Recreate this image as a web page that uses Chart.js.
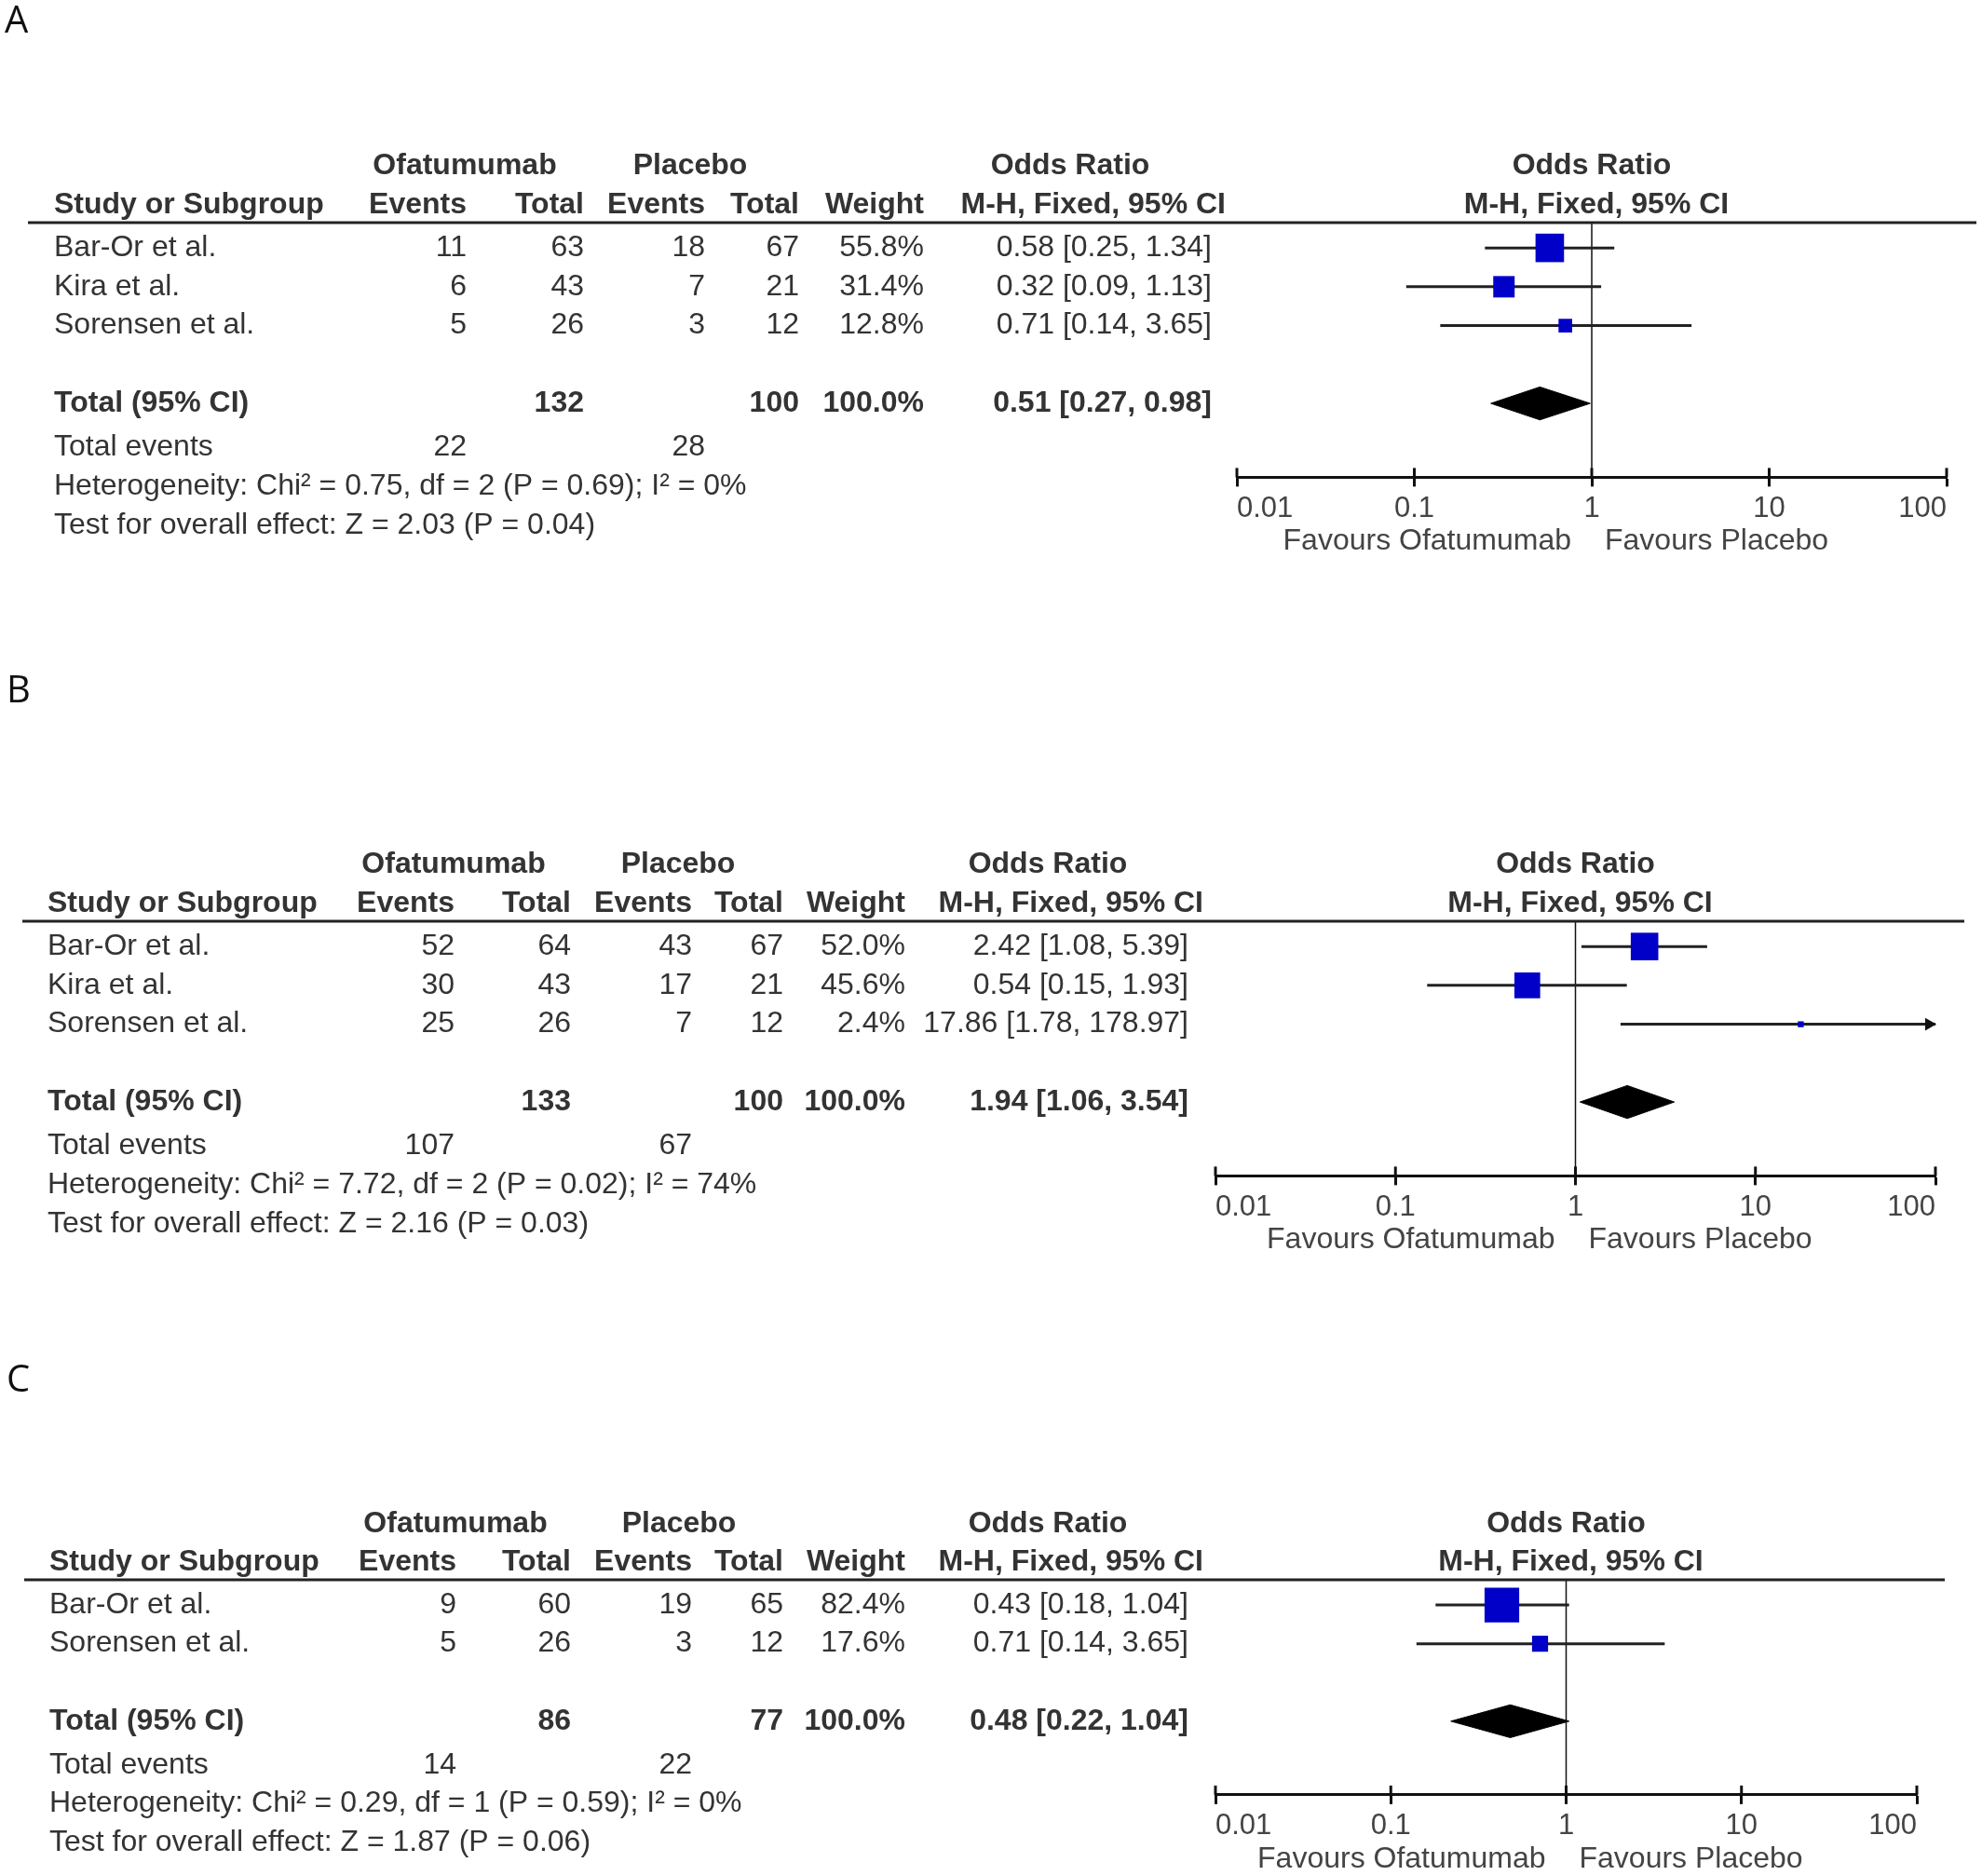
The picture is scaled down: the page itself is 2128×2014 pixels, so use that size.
<!DOCTYPE html>
<html>
<head>
<meta charset="utf-8">
<script src="https://cdn.jsdelivr.net/npm/chart.js@4.4.1/dist/chart.umd.min.js"></script>
<style>
  body { margin: 0; background: #fff; width: 2128px; height: 2014px; overflow: hidden; position: relative; }
  canvas { position: absolute; left: 0; }
</style>
</head>
<body>
<canvas id="chartA" width="2128" height="700" style="top:0px"></canvas>
<canvas id="chartB" width="2128" height="700" style="top:700px"></canvas>
<canvas id="chartC" width="2128" height="614" style="top:1400px"></canvas>
<script>
var tickValues = [0.01, 0.1, 1, 10, 100];
var tickLabels = ["0.01", "0.1", "1", "10", "100"];

// A
var studiesA = ["Bar-Or et al.", "Kira et al.", "Sorensen et al."];
var ofaEventsA = [11, 6, 5];
var ofaTotalA = [63, 43, 26];
var plaEventsA = [18, 7, 3];
var plaTotalA = [67, 21, 12];
var weightA = [55.8, 31.4, 12.8];
var orA = [0.58, 0.32, 0.71];
var loA = [0.25, 0.09, 0.14];
var hiA = [1.34, 1.13, 3.65];
var pooledA = [0.51, 0.27, 0.98];   // OR, low, high
var totalsA = [132, 100];
var eventsA = [22, 28];
var hetA = "Heterogeneity: Chi\u00b2 = 0.75, df = 2 (P = 0.69); I\u00b2 = 0%";
var testA = "Test for overall effect: Z = 2.03 (P = 0.04)";

// B
var studiesB = ["Bar-Or et al.", "Kira et al.", "Sorensen et al."];
var ofaEventsB = [52, 30, 25];
var ofaTotalB = [64, 43, 26];
var plaEventsB = [43, 17, 7];
var plaTotalB = [67, 21, 12];
var weightB = [52.0, 45.6, 2.4];
var orB = [2.42, 0.54, 17.86];
var loB = [1.08, 0.15, 1.78];
var hiB = [5.39, 1.93, 178.97];
var pooledB = [1.94, 1.06, 3.54];
var totalsB = [133, 100];
var eventsB = [107, 67];
var hetB = "Heterogeneity: Chi\u00b2 = 7.72, df = 2 (P = 0.02); I\u00b2 = 74%";
var testB = "Test for overall effect: Z = 2.16 (P = 0.03)";

// C
var studiesC = ["Bar-Or et al.", "Sorensen et al."];
var ofaEventsC = [9, 5];
var ofaTotalC = [60, 26];
var plaEventsC = [19, 3];
var plaTotalC = [65, 12];
var weightC = [82.4, 17.6];
var orC = [0.43, 0.71];
var loC = [0.18, 0.14];
var hiC = [1.04, 3.65];
var pooledC = [0.48, 0.22, 1.04];
var totalsC = [86, 77];
var eventsC = [14, 22];
var hetC = "Heterogeneity: Chi\u00b2 = 0.29, df = 1 (P = 0.59); I\u00b2 = 0%";
var testC = "Test for overall effect: Z = 1.87 (P = 0.06)";

var FONT = "'Liberation Sans', Arial, sans-serif";
var TXT = "#333";
var U = 42.5; // px per table row
var TICK_FONT = 31;

function ci(or, lo, hi) {
  return or.toFixed(2) + " [" + lo.toFixed(2) + ", " + hi.toFixed(2) + "]";
}

function buildPanel(canvasId, d, L) {
  var n = d.studies.length;
  var rowY = d.studies.map(function (s, i) { return 0.65 + i; });
  var totalRow = rowY[n - 1] + 2.0;
  var evRow = totalRow + 1.13;
  var hetRow = evRow + 1;
  var testRow = hetRow + 1;
  var axisRow = totalRow + 1.9;
  var axisH = 10 + TICK_FONT * 1.2 + 5;
  var canvas = document.getElementById(canvasId);
  var W = canvas.width, H = canvas.height;
  var padBottom = H - L.top - axisRow * U - axisH;
  var decade = (L.x1 - L.x0) / 4;

  var datasets = [];
  // study squares
  datasets.push({
    data: d.or.map(function (v, i) { return { x: v, y: rowY[i] }; }),
    pointStyle: "rect",
    pointRadius: d.weight.map(function (w) { return 4.1 * Math.sqrt(w) / Math.SQRT2; }),
    backgroundColor: "#0000c8",
    borderWidth: 0,
    order: 0,
    clip: false
  });
  // confidence intervals
  d.lo.forEach(function (lo, i) {
    datasets.push({
      data: [{ x: lo, y: rowY[i] }, { x: Math.min(d.hi[i], 100), y: rowY[i] }],
      showLine: true,
      borderColor: "#222",
      borderWidth: 3,
      pointRadius: 0,
      order: 2,
      clip: false
    });
    if (d.hi[i] > 100) {
      // arrow head: tip sits on the axis end
      datasets.push({
        data: [{ x: 100 / Math.pow(10, 7 / decade), y: rowY[i] }],
        pointStyle: "triangle",
        rotation: 90,
        pointRadius: 8,
        backgroundColor: "#111",
        borderWidth: 0,
        order: 1,
        clip: false
      });
    }
  });
  // line of no effect
  datasets.push({
    data: [{ x: 1, y: 0 }, { x: 1, y: axisRow }],
    showLine: true,
    borderColor: "#111",
    borderWidth: 1.5,
    pointRadius: 0,
    order: 3
  });
  // pooled diamond (upper half filled to lower half)
  var h = 18 / U;
  datasets.push({
    data: [{ x: d.pooled[1], y: totalRow }, { x: d.pooled[0], y: totalRow - h }, { x: d.pooled[2], y: totalRow }],
    showLine: true,
    borderColor: "#000",
    borderWidth: 1,
    pointRadius: 0,
    fill: "+1",
    backgroundColor: "#000",
    order: 1
  });
  datasets.push({
    data: [{ x: d.pooled[1], y: totalRow }, { x: d.pooled[0], y: totalRow + h }, { x: d.pooled[2], y: totalRow }],
    showLine: true,
    borderColor: "#000",
    borderWidth: 1,
    pointRadius: 0,
    fill: false,
    order: 1
  });

  var tablePlugin = {
    id: "table" + canvasId,
    afterDraw: function (chart) {
      var ctx = chart.ctx, ys = chart.scales.y, xs = chart.scales.x;
      function Y(r) { return ys.getPixelForValue(r); }
      function txt(str, x, r, align, bold) {
        ctx.font = (bold ? "bold " : "") + "32px " + FONT;
        ctx.textAlign = align;
        ctx.fillText(String(str), x, Y(r));
      }
      ctx.save();
      ctx.textBaseline = "middle";

      ctx.fillStyle = "#111";
      ctx.font = "40px 'Open Sans', sans-serif";
      ctx.textAlign = "left";
      ctx.fillText(d.letter, L.letterX, L.letterY);

      // header rule
      var y0 = Y(0);
      ctx.strokeStyle = "#222";
      ctx.lineWidth = 3;
      ctx.beginPath();
      ctx.moveTo(L.lineL, y0);
      ctx.lineTo(L.lineR, y0);
      ctx.stroke();

      // upper half of axis ticks
      var ya = Y(axisRow);
      ctx.strokeStyle = "#111";
      tickValues.forEach(function (v) {
        var x = xs.getPixelForValue(v);
        ctx.beginPath();
        ctx.moveTo(x, ya - 10);
        ctx.lineTo(x, ya);
        ctx.stroke();
      });

      var c = L.cols;
      var x1 = xs.getPixelForValue(1);
      ctx.fillStyle = TXT;
      // headers
      txt("Ofatumumab", L.ofaHdr, -1.45, "center", true);
      txt("Placebo", L.plaHdr, -1.45, "center", true);
      txt("Odds Ratio", L.mhRight - 167, -1.45, "center", true);
      txt("Odds Ratio", x1, -1.45, "center", true);
      txt("Study or Subgroup", L.studyX, -0.45, "left", true);
      txt("Events", c[0], -0.45, "right", true);
      txt("Total", c[1], -0.45, "right", true);
      txt("Events", c[2], -0.45, "right", true);
      txt("Total", c[3], -0.45, "right", true);
      txt("Weight", c[4], -0.45, "right", true);
      txt("M-H, Fixed, 95% CI", L.mhRight, -0.45, "right", true);
      txt("M-H, Fixed, 95% CI", x1 + 5, -0.45, "center", true);

      // studies
      d.studies.forEach(function (s, i) {
        var r = rowY[i];
        txt(s, L.studyX, r, "left", false);
        txt(d.ofaEvents[i], c[0], r, "right", false);
        txt(d.ofaTotal[i], c[1], r, "right", false);
        txt(d.plaEvents[i], c[2], r, "right", false);
        txt(d.plaTotal[i], c[3], r, "right", false);
        txt(d.weight[i].toFixed(1) + "%", c[4], r, "right", false);
        txt(ci(d.or[i], d.lo[i], d.hi[i]), c[5], r, "right", false);
      });

      // totals
      txt("Total (95% CI)", L.studyX, totalRow, "left", true);
      txt(d.totals[0], c[1], totalRow, "right", true);
      txt(d.totals[1], c[3], totalRow, "right", true);
      txt("100.0%", c[4], totalRow, "right", true);
      txt(ci(d.pooled[0], d.pooled[1], d.pooled[2]), c[5], totalRow, "right", true);
      txt("Total events", L.studyX, evRow, "left", false);
      txt(d.events[0], c[0], evRow, "right", false);
      txt(d.events[1], c[2], evRow, "right", false);
      txt(d.het, L.studyX, hetRow, "left", false);
      txt(d.test, L.studyX, testRow, "left", false);

      // favours labels
      ctx.fillStyle = "#444";
      ctx.font = "32px " + FONT;
      ctx.textAlign = "right";
      ctx.fillText("Favours Ofatumumab", x1 - 22, ya + 69);
      ctx.textAlign = "left";
      ctx.fillText("Favours Placebo", x1 + 14, ya + 69);
      ctx.restore();
    }
  };

  return new Chart(canvas.getContext("2d"), {
    type: "scatter",
    data: { datasets: datasets },
    options: {
      responsive: false,
      animation: false,
      devicePixelRatio: 1,
      layout: { padding: { left: L.x0, right: W - L.x1, top: L.top, bottom: padBottom } },
      plugins: { legend: { display: false }, tooltip: { enabled: false } },
      scales: {
        x: {
          type: "logarithmic",
          min: 0.01,
          max: 100,
          afterBuildTicks: function (scale) {
            scale.ticks = tickValues.map(function (v) { return { value: v }; });
          },
          ticks: {
            callback: function (v, i) { return tickLabels[i]; },
            font: { family: FONT, size: TICK_FONT, lineHeight: 1.2 },
            color: "#444",
            padding: 5,
            align: "inner",
            maxRotation: 0,
            autoSkip: false
          },
          grid: { drawOnChartArea: false, drawTicks: true, tickLength: 10, tickWidth: 3, tickColor: "#111" },
          border: { display: true, color: "#111", width: 3 }
        },
        y: { type: "linear", reverse: true, min: 0, max: axisRow, display: false }
      }
    },
    plugins: [tablePlugin]
  });
}

buildPanel("chartA", {
  letter: "A", studies: studiesA, ofaEvents: ofaEventsA, ofaTotal: ofaTotalA,
  plaEvents: plaEventsA, plaTotal: plaTotalA, weight: weightA, or: orA, lo: loA, hi: hiA,
  pooled: pooledA, totals: totalsA, events: eventsA, het: hetA, test: testA
}, { top: 239, x0: 1328, x1: 2090, lineL: 30, lineR: 2122, studyX: 58,
     cols: [501, 627, 757, 858, 992, 1301], ofaHdr: 499, plaHdr: 741, mhRight: 1316, letterX: 5, letterY: 24 });

buildPanel("chartB", {
  letter: "B", studies: studiesB, ofaEvents: ofaEventsB, ofaTotal: ofaTotalB,
  plaEvents: plaEventsB, plaTotal: plaTotalB, weight: weightB, or: orB, lo: loB, hi: hiB,
  pooled: pooledB, totals: totalsB, events: eventsB, het: hetB, test: testB
}, { top: 289, x0: 1305, x1: 2078, lineL: 24, lineR: 2109, studyX: 51,
     cols: [488, 613, 743, 841, 972, 1276], ofaHdr: 487, plaHdr: 728, mhRight: 1292, letterX: 7, letterY: 43 });

buildPanel("chartC", {
  letter: "C", studies: studiesC, ofaEvents: ofaEventsC, ofaTotal: ofaTotalC,
  plaEvents: plaEventsC, plaTotal: plaTotalC, weight: weightC, or: orC, lo: loC, hi: hiC,
  pooled: pooledC, totals: totalsC, events: eventsC, het: hetC, test: testC
}, { top: 296, x0: 1305, x1: 2058, lineL: 26, lineR: 2088, studyX: 53,
     cols: [490, 613, 743, 841, 972, 1276], ofaHdr: 489, plaHdr: 729, mhRight: 1292, letterX: 7, letterY: 83 });
</script>
</body>
</html>
